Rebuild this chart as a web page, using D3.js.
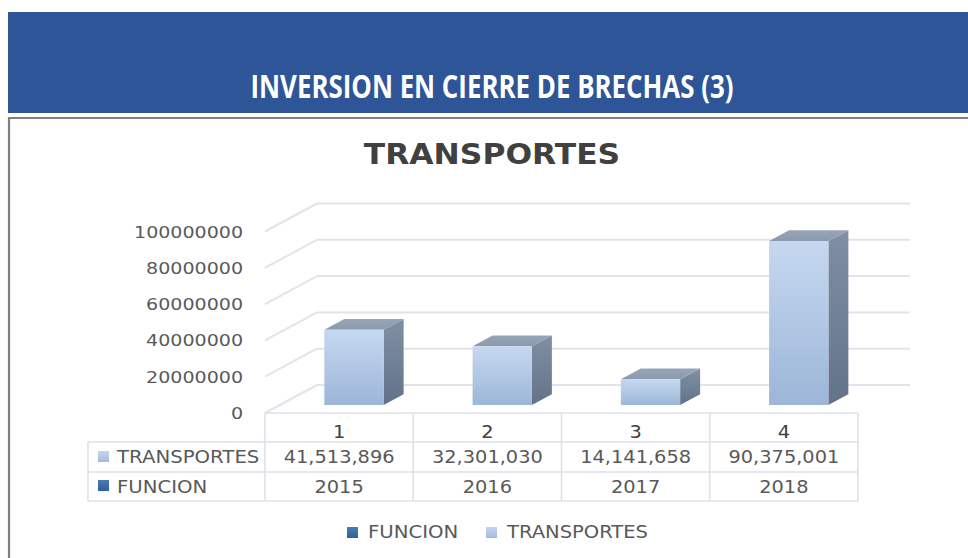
<!DOCTYPE html>
<html>
<head>
<meta charset="utf-8">
<script src="https://cdn.jsdelivr.net/npm/d3@7"></script>
<style>
  html, body { margin: 0; padding: 0; background: #ffffff; }
  svg { display: block; }
</style>
</head>
<body>
<div id="chart"></div>
<script>
// Investment in transport, by year
const categories = ["1", "2", "3", "4"];
const transportes = [41513896, 32301030, 14141658, 90375001];
const funcion = [2015, 2016, 2017, 2018];
const yTicks = [0, 20000000, 40000000, 60000000, 80000000, 100000000];
const legendNames = ["FUNCION", "TRANSPORTES"];
const bannerTitle = "INVERSION EN CIERRE DE BRECHAS (3)";
const chartTitle = "TRANSPORTES";

const W = 968, H = 558;
const svg = d3.select("#chart").append("svg")
  .attr("width", W).attr("height", H)
  .attr("viewBox", `0 0 ${W} ${H}`);

const defs = svg.append("defs");
function vGrad(id, c0, c1) {
  const g = defs.append("linearGradient").attr("id", id)
    .attr("x1", 0).attr("y1", 0).attr("x2", 0).attr("y2", 1);
  g.append("stop").attr("offset", "0%").attr("stop-color", c0);
  g.append("stop").attr("offset", "100%").attr("stop-color", c1);
}
vGrad("gFront", "#C6D8F0", "#9CB6D8");
vGrad("gSide", "#808FA3", "#627389");
vGrad("gTop", "#97A5B8", "#8A99AD");
vGrad("gLegT", "#C3D5EE", "#A3BCDD");
vGrad("gLegF", "#4A7DB5", "#2F5F96");

// Header banner
svg.append("rect").attr("x", 8).attr("y", 12).attr("width", W - 8).attr("height", 101)
  .attr("fill", "#2E5597");
svg.append("text")
  .attr("x", 492).attr("y", 98)
  .attr("text-anchor", "middle")
  .attr("font-family", "'Open Sans', sans-serif")
  .attr("font-weight", 700)
  .attr("font-size", 33)
  .attr("textLength", 483)
  .attr("lengthAdjust", "spacingAndGlyphs")
  .attr("fill", "#ffffff")
  .text(bannerTitle);

// Chart frame
svg.append("path")
  .attr("d", `M9,${H + 2} L9,118 L${W + 2},118`)
  .attr("fill", "none").attr("stroke", "#808080").attr("stroke-width", 2.2);

// Chart title
svg.append("text")
  .attr("transform", "translate(492,164) scale(1.12,1)")
  .attr("text-anchor", "middle")
  .attr("font-family", "'DejaVu Sans', Verdana, sans-serif")
  .attr("font-weight", 700)
  .attr("font-size", 28)
  .attr("fill", "#404040")
  .text(chartTitle);

// 3D plot geometry: front plane scales plus an oblique depth offset
const x = d3.scaleBand().domain(categories).range([265, 858]).paddingInner(0).paddingOuter(0);
const y = d3.scaleLinear().domain([0, 100000000]).range([413, 231.5]);
const depth = d3.scaleLinear().domain([0, 1]);
const DX = 52, DY = -28;
const px = (xv, z) => xv + depth(z) * DX;
const py = (yv, z) => yv + depth(z) * DY;

const grid = svg.append("g").attr("stroke", "#E1E4EA").attr("stroke-width", 2).attr("fill", "none");
const xL = x.range()[0], xR = x.range()[1];
// back wall gridlines
grid.selectAll("line.back").data(yTicks).join("line")
  .attr("x1", px(xL, 1)).attr("x2", px(xR, 1))
  .attr("y1", d => py(y(d), 1)).attr("y2", d => py(y(d), 1));
// side wall gridlines
grid.selectAll("line.side").data(yTicks).join("line")
  .attr("x1", px(xL, 0)).attr("x2", px(xL, 1))
  .attr("y1", d => py(y(d), 0)).attr("y2", d => py(y(d), 1));

// Y axis labels
svg.append("g").selectAll("text").data(yTicks).join("text")
  .attr("transform", d => `translate(243,${y(d) + 6}) scale(1.19,1)`)
  .attr("text-anchor", "end")
  .attr("font-family", "'DejaVu Sans', Verdana, sans-serif")
  .attr("font-size", 16)
  .attr("fill", "#595959")
  .text(d => String(d));

// Bars
const zF = 0.286, zB = 0.67;
const barW = x.bandwidth() * 0.4;
const bars = svg.append("g").selectAll("g").data(categories.map((c, i) => ({ c, v: transportes[i] }))).join("g");
bars.each(function (d) {
  const g = d3.select(this);
  const x0 = x(d.c) + (x.bandwidth() - barW) / 2, x1 = x0 + barW;
  const yt = y(d.v), yb = y(0);
  const P = (xx, yy, z) => `${px(xx, z)},${py(yy, z)}`;
  g.append("polygon").attr("fill", "url(#gSide)")
    .attr("points", [P(x1, yt, zF), P(x1, yt, zB), P(x1, yb, zB), P(x1, yb, zF)].join(" "));
  g.append("polygon").attr("fill", "url(#gTop)")
    .attr("points", [P(x0, yt, zF), P(x1, yt, zF), P(x1, yt, zB), P(x0, yt, zB)].join(" "));
  g.append("polygon").attr("fill", "url(#gFront)")
    .attr("points", [P(x0, yt, zF), P(x1, yt, zF), P(x1, yb, zF), P(x0, yb, zF)].join(" "));
});

// Data table below the plot
const rowTop = 413, r1 = 442, r2 = 472, r3 = 501, tblLeft = 88;
const tbl = svg.append("g").attr("stroke", "#DDE1E8").attr("stroke-width", 1.6);
tbl.append("line").attr("x1", xL).attr("x2", xR).attr("y1", rowTop).attr("y2", rowTop);
[r1, r2, r3].forEach(yy => tbl.append("line").attr("x1", tblLeft).attr("x2", xR).attr("y1", yy).attr("y2", yy));
tbl.append("line").attr("x1", tblLeft).attr("x2", tblLeft).attr("y1", r1).attr("y2", r3);
categories.concat([null]).forEach((c, i) => {
  const xx = c === null ? xR : x(c);
  tbl.append("line").attr("x1", xx).attr("x2", xx).attr("y1", rowTop).attr("y2", r3);
});

const font = "'DejaVu Sans', Verdana, sans-serif";
function cellText(g, xx, yy, txt, color, anchor, sx) {
  g.append("text")
    .attr("transform", `translate(${xx},${yy}) scale(${sx || 1.14},1)`)
    .attr("text-anchor", anchor || "middle")
    .attr("font-family", font)
    .attr("font-size", 17)
    .attr("fill", color)
    .text(txt);
}
const tg = svg.append("g");
categories.forEach(c => cellText(tg, x(c) + x.bandwidth() / 2, 438, c, "#404040"));
transportes.forEach((v, i) => cellText(tg, x(categories[i]) + x.bandwidth() / 2, 463, d3.format(",")(v), "#595959"));
funcion.forEach((v, i) => cellText(tg, x(categories[i]) + x.bandwidth() / 2, 493, String(v), "#595959"));

// Row headers with series keys
tg.append("rect").attr("x", 98).attr("y", 451).attr("width", 11).attr("height", 11).attr("fill", "url(#gLegT)");
cellText(tg, 117, 463, legendNames[1], "#595959", "start", 1.16);
tg.append("rect").attr("x", 98).attr("y", 480).attr("width", 11).attr("height", 11).attr("fill", "url(#gLegF)");
cellText(tg, 117, 493, legendNames[0], "#595959", "start", 1.16);

// Legend
const lg = svg.append("g");
lg.append("rect").attr("x", 347).attr("y", 527).attr("width", 11).attr("height", 11).attr("fill", "url(#gLegF)");
cellText(lg, 368, 538, legendNames[0], "#595959", "start", 1.16);
lg.append("rect").attr("x", 486).attr("y", 527).attr("width", 11).attr("height", 11).attr("fill", "url(#gLegT)");
cellText(lg, 507, 538, legendNames[1], "#595959", "start", 1.15);
</script>
</body>
</html>
